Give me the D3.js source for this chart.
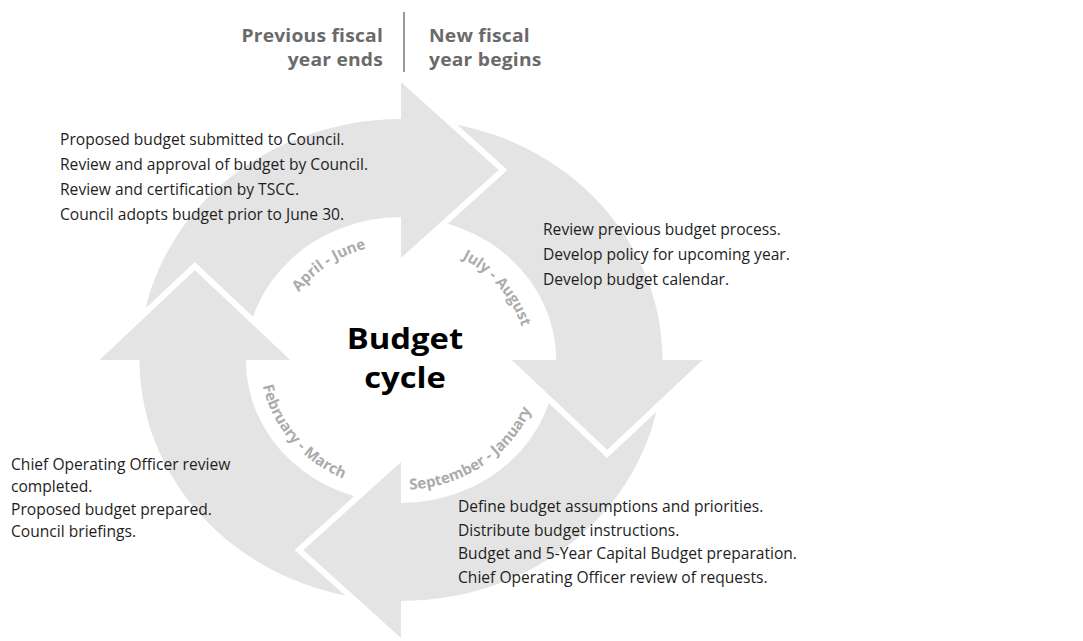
<!DOCTYPE html>
<html>
<head>
<meta charset="utf-8">
<script src="https://cdn.jsdelivr.net/npm/d3@7"></script>
<style>
  body { margin: 0; background: #fff; }
</style>
</head>
<body>
<div id="chart"></div>
<script>
var width = 1083;
var height = 641;

// text of the diagram
var headerLeft = ["Previous fiscal", "year ends"];
var headerRight = ["New fiscal", "year begins"];
var titleLines = ["Budget", "cycle"];
var phases = ["April - June", "July - August", "September - January", "February - March"];

var aprilJune = [
  "Proposed budget submitted to Council.",
  "Review and approval of budget by Council.",
  "Review and certification by TSCC.",
  "Council adopts budget prior to June 30."
];
var julyAugust = [
  "Review previous budget process.",
  "Develop policy for upcoming year.",
  "Develop budget calendar."
];
var septemberJanuary = [
  "Define budget assumptions and priorities.",
  "Distribute budget instructions.",
  "Budget and 5-Year Capital Budget preparation.",
  "Chief Operating Officer review of requests."
];
var februaryMarch = [
  "Chief Operating Officer review",
  "completed.",
  "Proposed budget prepared.",
  "Council briefings."
];

draw();

function draw() {
  var cx = 401;
  var cy = 360;
  var sx = 1.085;          // the ring is a little wider than tall
  var innerR = 143;
  var outerR = 241;
  var headMid = 190;
  var headHalf = 92;
  var headLen = 94;
  var ringColor = "#e4e4e4";
  var font = "'Open Sans', 'DejaVu Sans', sans-serif";

  var svg = d3.select("#chart")
    .append("svg")
    .attr("width", width)
    .attr("height", height);

  // phase index -> angle (0 at twelve o'clock, clockwise)
  var angle = d3.scaleLinear()
    .domain([0, phases.length])
    .range([-Math.PI / 2, Math.PI * 1.5]);

  var arc = d3.arc()
    .innerRadius(innerR)
    .outerRadius(outerR);

  var ring = svg.append("g")
    .attr("transform", "translate(" + cx + "," + cy + ") scale(" + sx + ",1)");

  ring.selectAll("path.body")
    .data(phases)
    .enter()
    .append("path")
    .attr("class", "body")
    .attr("d", function (d, i) {
      return arc({ startAngle: angle(i), endAngle: angle(i + 1) });
    })
    .attr("fill", ringColor);

  function pt(r, a) {
    return [r * Math.sin(a), -r * Math.cos(a)];
  }

  ring.selectAll("path.head")
    .data(phases)
    .enter()
    .append("path")
    .attr("class", "head")
    .attr("d", function (d, i) {
      var a = angle(i + 1);
      var p1 = pt(headMid - headHalf, a);
      var p2 = pt(headMid + headHalf, a);
      var m = pt(headMid, a);
      var tip = [m[0] + headLen * Math.cos(a), m[1] + headLen * Math.sin(a)];
      return "M" + p1 + "L" + tip + "L" + p2;
    })
    .attr("fill", ringColor)
    .attr("stroke", "#fff")
    .attr("stroke-width", 6)
    .attr("stroke-linejoin", "miter")
    .attr("vector-effect", "non-scaling-stroke");

  // month labels along the inner edge of the ring
  var labelOffset = 53 * Math.PI / 180;
  var span = 75 * Math.PI / 180;
  var defs = svg.append("defs");

  phases.forEach(function (d, i) {
    var c = angle(i) + labelOffset;
    var bottom = Math.cos(c) < 0;
    var r = bottom ? 130 : 116;
    var a0 = bottom ? c + span : c - span;
    var a1 = bottom ? c - span : c + span;
    var x0 = cx + r * sx * Math.sin(a0), y0 = cy - r * Math.cos(a0);
    var x1 = cx + r * sx * Math.sin(a1), y1 = cy - r * Math.cos(a1);
    defs.append("path")
      .attr("id", "label-arc-" + i)
      .attr("d", "M" + x0 + "," + y0 + " A" + (r * sx) + "," + r + " 0 0 " +
        (bottom ? 0 : 1) + " " + x1 + "," + y1);
  });

  svg.selectAll("text.phase")
    .data(phases)
    .enter()
    .append("text")
    .attr("class", "phase")
    .attr("font-family", font)
    .attr("font-weight", "bold")
    .attr("font-size", "15px")
    .attr("fill", "#ababab")
    .append("textPath")
    .attr("href", function (d, i) { return "#label-arc-" + i; })
    .attr("startOffset", "50%")
    .attr("text-anchor", "middle")
    .text(function (d) { return d; });

  // title in the middle, stretched a little like the ring
  svg.selectAll("text.title")
    .data(titleLines)
    .enter()
    .append("text")
    .attr("class", "title")
    .attr("transform", function (d, i) {
      return "translate(405," + (349 + i * 39) + ") scale(1.15,1)";
    })
    .attr("text-anchor", "middle")
    .attr("font-family", font)
    .attr("font-weight", "bold")
    .attr("font-size", "28.5px")
    .attr("fill", "#000")
    .text(function (d) { return d; });

  // fiscal year header
  svg.append("line")
    .attr("x1", 404).attr("x2", 404)
    .attr("y1", 12).attr("y2", 72)
    .attr("stroke", "#9a9a9a")
    .attr("stroke-width", 2);

  [[headerLeft, 383, "end"], [headerRight, 429, "start"]].forEach(function (h) {
    svg.selectAll(null)
      .data(h[0])
      .enter()
      .append("text")
      .attr("transform", function (d, i) {
        return "translate(" + h[1] + "," + (42 + i * 24) + ") scale(1.1,1)";
      })
      .attr("text-anchor", h[2])
      .attr("font-family", font)
      .attr("font-weight", "bold")
      .attr("font-size", "17.5px")
      .attr("letter-spacing", "0.2px")
      .attr("fill", "#6a6a6a")
      .text(function (d) { return d; });
  });

  // description blocks: lines, x, first baseline, line step
  var blocks = [
    [aprilJune, 60, 145, 25],
    [julyAugust, 543, 235, 25],
    [septemberJanuary, 458, 512, 23.7],
    [februaryMarch, 11, 470, 22.4]
  ];

  blocks.forEach(function (b) {
    svg.selectAll(null)
      .data(b[0])
      .enter()
      .append("text")
      .attr("x", b[1])
      .attr("y", function (d, i) { return b[2] + i * b[3]; })
      .attr("font-family", font)
      .attr("font-size", "15.6px")
      .attr("fill", "#1e1e1e")
      .text(function (d) { return d; });
  });
}
</script>
</body>
</html>
